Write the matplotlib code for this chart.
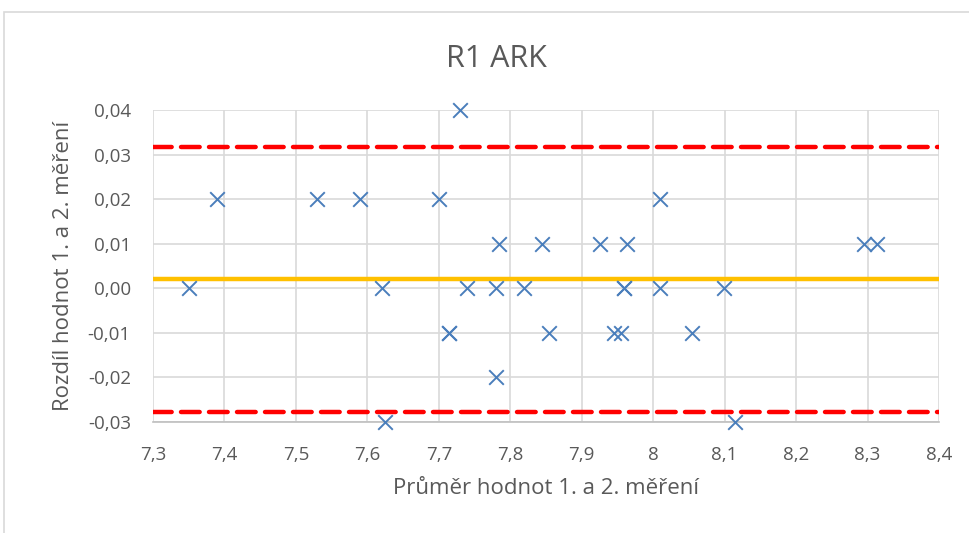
import matplotlib.pyplot as plt
from matplotlib.patches import Rectangle
from matplotlib.ticker import FuncFormatter

# body of the chart
prumer = [7.350, 7.390, 7.530, 7.590, 7.700, 7.620, 7.625, 7.714, 7.714, 7.729,
          7.740, 7.784, 7.780, 7.780, 7.819, 7.845, 7.854, 7.925, 7.964, 7.959,
          7.959, 7.945, 7.955, 8.009, 8.009, 8.054, 8.099, 8.114, 8.295, 8.313]
rozdil = [0.00, 0.02, 0.02, 0.02, 0.02, 0.00, -0.03, -0.01, -0.01, 0.04,
          0.00, 0.01, 0.00, -0.02, 0.00, 0.01, -0.01, 0.01, 0.01, 0.00,
          0.00, -0.01, -0.01, 0.02, 0.00, -0.01, 0.00, -0.03, 0.01, 0.01]
prumer_rozdilu = 0.0020
horni_mez = 0.0318
dolni_mez = -0.0277

x_ticks = [7.3, 7.4, 7.5, 7.6, 7.7, 7.8, 7.9, 8.0, 8.1, 8.2, 8.3, 8.4]
y_ticks = [-0.03, -0.02, -0.01, 0.00, 0.01, 0.02, 0.03, 0.04]

plt.rcParams['font.family'] = ['Open Sans', 'DejaVu Sans']
txt = '#595959'

fig = plt.figure(figsize=(9.69, 5.33), dpi=100)
fig.patches.append(Rectangle((4 / 969, -0.1), 1.1, 1 - 12 / 533 + 0.1,
                             transform=fig.transFigure, fill=False,
                             edgecolor='#D9D9D9', linewidth=1.2))
ax = fig.add_axes([153 / 969, 1 - 422 / 533, (939 - 153) / 969, (422 - 110) / 533])

ax.axhline(horni_mez, color='#FF0000', linewidth=3.2, linestyle=(0, (4.2, 2.1)),
           dash_capstyle='round', zorder=3)
ax.axhline(dolni_mez, color='#FF0000', linewidth=3.2, linestyle=(0, (4.2, 2.1)),
           dash_capstyle='round', zorder=3)
ax.axhline(prumer_rozdilu, color='#FFC000', linewidth=3.2, zorder=3)
ax.scatter(prumer, rozdil, marker='x', s=110, color='#4A7EBB', linewidths=1.4,
           zorder=4, clip_on=False)

ax.set_xlim(7.3, 8.4)
ax.set_ylim(-0.03, 0.04)
ax.set_xticks(x_ticks)
ax.set_yticks(y_ticks)
ax.xaxis.set_major_formatter(FuncFormatter(lambda v, p: ('%g' % round(v, 1)).replace('.', ',')))
ax.yaxis.set_major_formatter(FuncFormatter(lambda v, p: ('%.2f' % v).replace('.', ',').replace('-0,00', '0,00')))
ax.grid(True, color='#D9D9D9', linewidth=1.2)
ax.set_axisbelow(True)
for s in ['top', 'right', 'left']:
    ax.spines[s].set_visible(False)
ax.spines['bottom'].set_color('#BFBFBF')
ax.spines['bottom'].set_linewidth(1.2)
ax.tick_params(length=0, labelsize=13.5, colors=txt)
ax.tick_params(axis='y', pad=16)
ax.tick_params(axis='x', pad=17)

# title sits centred on the whole chart box, not on the plot area
fig.text(496 / 969, 1 - 67 / 533, 'R1 ARK', fontsize=22, color=txt,
         ha='center', va='baseline')
ax.set_xlabel('Průměr hodnot 1. a 2. měření', fontsize=16, color=txt, labelpad=10)
ax.set_ylabel('Rozdíl hodnot 1. a 2. měření', fontsize=16, color=txt, labelpad=10)

fig.savefig('out.png', dpi=100)
